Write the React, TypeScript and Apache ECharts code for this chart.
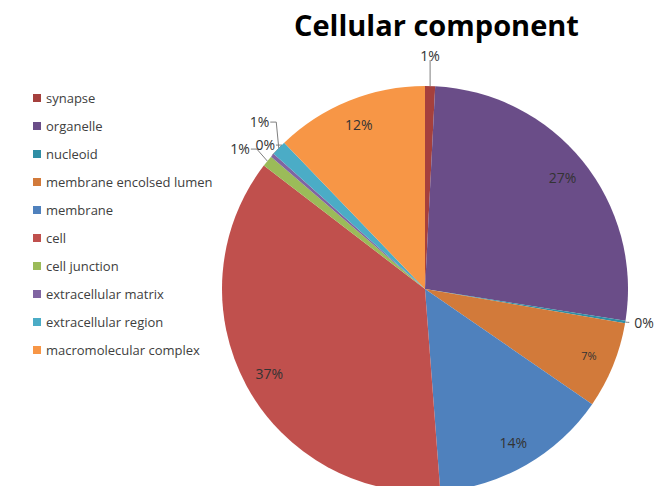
import React, { useEffect, useRef } from 'react';
import * as echarts from 'echarts';

const categories = [
  'synapse',
  'organelle',
  'nucleoid',
  'membrane encolsed lumen',
  'membrane',
  'cell',
  'cell junction',
  'extracellular matrix',
  'extracellular region',
  'macromolecular complex',
];
const percentages = [0.8, 26.7, 0.2, 6.9, 14.2, 36.6, 0.9, 0.3, 1.2, 12.2];
const colors = [
  '#A5403D',
  '#6A4D88',
  '#2F8EA5',
  '#D27A3A',
  '#4F81BD',
  '#C0504D',
  '#9BBB59',
  '#8064A2',
  '#4BACC6',
  '#F79646',
];
const titleText = 'Cellular component';

const FONT = '"Open Sans", "Liberation Sans", sans-serif';

export default function App() {
  const ref = useRef<HTMLDivElement>(null);
  useEffect(() => {
    document.body.style.margin = '0';
    const chart = echarts.init(ref.current!, null, { renderer: 'svg' });
    const isSmall = (v: number) => v < 2;
    const fmt = (p: any) => Math.round(p.value) + '%';
    const lineLen = (name: string) => {
      if (name === 'synapse') return { length: 22, length2: 0 };
      if (name === 'nucleoid') return { length: 2, length2: 2 };
      if (name === 'extracellular region') return { length: 16, length2: 6 };
      return { length: 8, length2: 5 };
    };
    const nudge: Record<string, { dx: number; dy: number }> = {
      synapse: { dx: 0, dy: -9 },
      'cell junction': { dx: 9, dy: -21 },
      'extracellular matrix': { dx: 24, dy: -9 },
      'extracellular region': { dx: 13, dy: -16 },
    };
    const baseData = categories.map((name, i) => ({
      name,
      value: percentages[i],
      itemStyle: { color: colors[i] },
      label: { show: isSmall(percentages[i]) },
      labelLine: { show: isSmall(percentages[i]), ...lineLen(name) },
    }));
    const overlayData = categories.map((name, i) => ({
      name,
      value: percentages[i],
      itemStyle: { color: 'rgba(0,0,0,0)' },
      label: {
        show: !isSmall(percentages[i]),
        fontSize: percentages[i] < 10 ? 11 : 14,
      },
    }));
    chart.setOption({
      animation: false,
      title: {
        text: titleText,
        left: 289,
        top: 5,
        textStyle: { fontFamily: FONT, fontWeight: 'bold', fontSize: 29, color: '#000' },
      },
      legend: {
        orient: 'vertical',
        left: 28,
        top: 85,
        itemWidth: 8,
        itemHeight: 8,
        itemGap: 12,
        icon: 'rect',
        selectedMode: false,
        data: categories,
        textStyle: { fontFamily: FONT, fontSize: 13, color: '#404040', lineHeight: 16 },
      },
      series: [
        {
          type: 'pie',
          center: [425, 289],
          radius: 203,
          startAngle: 90,
          clockwise: true,
          avoidLabelOverlap: true,
          itemStyle: { borderWidth: 0 },
          label: {
            position: 'outside',
            formatter: fmt,
            fontFamily: FONT,
            fontSize: 14,
            color: '#333',
          },
          labelLine: { lineStyle: { color: '#7f7f7f', width: 1 } },
          labelLayout: (p: any) => {
            const name = categories[p.dataIndex];
            const n = nudge[name];
            const pts = p.labelLinePoints;
            if (!n || !pts) return {};
            const r = p.labelRect;
            const p0 = pts[0];
            if (name === 'synapse') {
              const dx = p0[0] - (r.x + r.width / 2);
              const bottom = r.y + r.height + n.dy - 2;
              return {
                dx,
                dy: n.dy,
                labelLinePoints: [p0, [p0[0], bottom], [p0[0], bottom]],
              };
            }
            const nx = r.x + n.dx;
            const ny = r.y + n.dy;
            const end = [nx + r.width + 1, ny + r.height / 2 + 1];
            const mid = [end[0] + 6, end[1]];
            return { dx: n.dx, dy: n.dy, labelLinePoints: [p0, mid, end] };
          },
          emphasis: { disabled: true },
          data: baseData,
        },
        {
          type: 'pie',
          center: [425, 289],
          radius: [144, 204],
          startAngle: 90,
          clockwise: true,
          silent: true,
          label: {
            position: 'inside',
            formatter: fmt,
            fontFamily: FONT,
            color: '#333',
          },
          labelLine: { show: false },
          emphasis: { disabled: true },
          data: overlayData,
        },
      ],
    });
    return () => chart.dispose();
  }, []);
  return <div ref={ref} style={{ width: 664, height: 486 }} />;
}
